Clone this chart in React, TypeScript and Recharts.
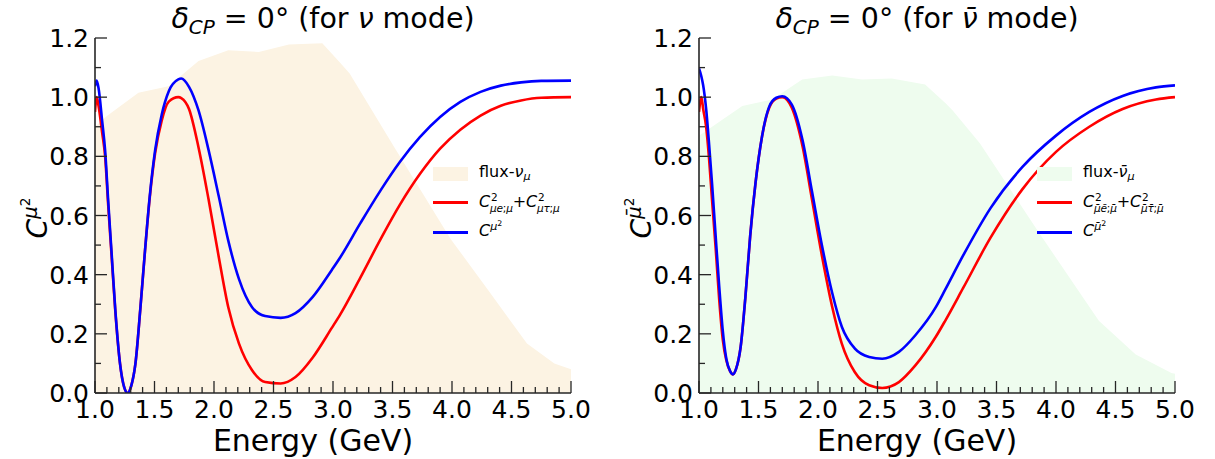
import React from "react";
import { ComposedChart, Line, Area, XAxis, YAxis } from "recharts";

// ── data ─────────────────────────────────────────────────────────────────────

// nu mode: energies (GeV) where the two curves were read
const nuE = [
  1.0, 1.014, 1.03, 1.06, 1.085, 1.11, 1.14, 1.17, 1.21, 1.245, 1.275, 1.305,
  1.34, 1.38, 1.42, 1.46, 1.505, 1.56, 1.62, 1.7, 1.725, 1.79, 1.87, 1.955,
  2.04, 2.12, 2.21, 2.32, 2.43, 2.56, 2.685, 2.83, 2.99, 3.06, 3.23, 3.4,
  3.56, 3.73, 3.9, 4.07, 4.24, 4.41, 4.58, 4.75, 5.0,
];
const nuRed = [
  0.95, 1.0, 0.97, 0.88, 0.8, 0.64, 0.46, 0.28, 0.1, 0.02, 0.0, 0.025,
  0.1, 0.28, 0.48, 0.66, 0.81, 0.92, 0.985, 1.0, 0.997, 0.96, 0.83, 0.653,
  0.46, 0.29, 0.167, 0.077, 0.037, 0.032, 0.054, 0.12, 0.22, 0.265, 0.39, 0.52,
  0.635, 0.74, 0.826, 0.89, 0.938, 0.971, 0.989, 0.998, 1.0,
];
const nuBlue = [
  1.037, 1.056, 1.03, 0.92, 0.82, 0.655, 0.47, 0.285, 0.1, 0.02, 0.0, 0.025,
  0.1, 0.28, 0.48, 0.665, 0.82, 0.94, 1.02, 1.06, 1.063, 1.035, 0.955, 0.82,
  0.665, 0.515, 0.385, 0.29, 0.26, 0.254, 0.27, 0.325, 0.416, 0.458, 0.574, 0.685,
  0.78, 0.865, 0.933, 0.984, 1.018, 1.039, 1.05, 1.055, 1.056,
];
const nuFluxE = [1.0, 1.1, 1.365, 1.618, 1.87, 2.12, 2.376, 2.63, 2.91, 3.06, 3.14, 3.51, 3.99, 4.3, 4.63, 4.86, 5.0];
const nuFlux = [0.9, 0.936, 1.015, 1.037, 1.122, 1.159, 1.153, 1.178, 1.182, 1.116, 1.08, 0.834, 0.52, 0.35, 0.167, 0.1, 0.08];

// anti-nu mode
const barE = [
  1.0, 1.02, 1.035, 1.06, 1.085, 1.11, 1.14, 1.17, 1.2, 1.23, 1.26, 1.285,
  1.31, 1.35, 1.39, 1.43, 1.475, 1.53, 1.59, 1.65, 1.7, 1.78, 1.87, 1.95,
  2.035, 2.12, 2.2, 2.31, 2.43, 2.54, 2.68, 2.82, 2.99, 3.07, 3.22, 3.45,
  3.72, 4.0, 4.28, 4.56, 4.84, 5.0,
];
const barRed = [
  0.95, 1.0, 0.96, 0.9, 0.79, 0.65, 0.49, 0.315, 0.18, 0.11, 0.075, 0.063,
  0.08, 0.156, 0.325, 0.53, 0.71, 0.868, 0.964, 0.995, 1.0, 0.964, 0.834, 0.653,
  0.46, 0.29, 0.167, 0.07, 0.026, 0.017, 0.037, 0.094, 0.19, 0.245, 0.355, 0.525,
  0.69, 0.815, 0.9, 0.96, 0.992, 1.0,
];
const barBlue = [
  1.097, 1.07, 1.04, 0.96, 0.84, 0.706, 0.53, 0.36, 0.21, 0.115, 0.075, 0.063,
  0.08, 0.156, 0.325, 0.53, 0.71, 0.868, 0.968, 0.998, 1.003, 0.975, 0.855, 0.68,
  0.495, 0.337, 0.224, 0.15, 0.122, 0.116, 0.139, 0.196, 0.29, 0.35, 0.465, 0.625,
  0.765, 0.87, 0.95, 1.004, 1.033, 1.04,
];
const barFluxE = [1.0, 1.364, 1.615, 1.867, 2.12, 2.37, 2.62, 2.9, 3.07, 3.13, 3.36, 3.86, 4.36, 4.67, 4.97, 5.0];
const barFlux = [0.87, 0.97, 0.992, 1.06, 1.073, 1.06, 1.063, 1.043, 0.98, 0.956, 0.844, 0.54, 0.244, 0.13, 0.068, 0.065];

const xTicks = [
  1.0, 1.1, 1.2, 1.3, 1.4, 1.5, 1.6, 1.7, 1.8, 1.9, 2.0, 2.1, 2.2, 2.3, 2.4, 2.5,
  2.6, 2.7, 2.8, 2.9, 3.0, 3.1, 3.2, 3.3, 3.4, 3.5, 3.6, 3.7, 3.8, 3.9, 4.0, 4.1,
  4.2, 4.3, 4.4, 4.5, 4.6, 4.7, 4.8, 4.9, 5.0,
];
const yTicks = [0, 0.1, 0.2, 0.3, 0.4, 0.5, 0.6, 0.7, 0.8, 0.9, 1.0, 1.1, 1.2];

// ── helpers ──────────────────────────────────────────────────────────────────

const FONT = "'DejaVu Sans', sans-serif";
const FRAME = "#262626";

function buildRows(e: number[], red: number[], blue: number[], fe: number[], flux: number[]) {
  const map = new Map<number, any>();
  e.forEach((x, i) => map.set(x, { E: x, red: red[i], blue: blue[i] }));
  fe.forEach((x, i) => {
    const r = map.get(x) ?? { E: x };
    r.flux = flux[i];
    map.set(x, r);
  });
  return [...map.values()].sort((a, b) => a.E - b.E);
}

const isMajor = (v: number, step: number) => Math.abs(v / step - Math.round(v / step)) < 1e-6;

function makeTick(side: "bottom" | "top" | "left" | "right") {
  return (props: any) => {
    const { x, y, payload } = props;
    const v = payload.value as number;
    const horiz = side === "bottom" || side === "top";
    const major = horiz ? isMajor(v, 0.5) : isMajor(v, 0.2);
    const len = major ? 12 : 6;
    let line;
    if (side === "bottom") line = <line x1={x} x2={x} y1={y} y2={y - len} />;
    else if (side === "top") line = <line x1={x} x2={x} y1={y} y2={y + len} />;
    else if (side === "left") line = <line x1={x} x2={x + len} y1={y} y2={y} />;
    else line = <line x1={x} x2={x - len} y1={y} y2={y} />;
    return (
      <g>
        <g stroke={FRAME} strokeWidth={1.3}>{line}</g>
        {major && side === "bottom" && (
          <text x={x} y={y + 25} textAnchor="middle" fontSize={25} fontFamily={FONT} fill="#000">
            {v.toFixed(1)}
          </text>
        )}
        {major && side === "left" && (
          <text x={x - 6} y={y + 9} textAnchor="end" fontSize={25} fontFamily={FONT} fill="#000">
            {v.toFixed(1)}
          </text>
        )}
      </g>
    );
  };
}

const axisLine = { stroke: FRAME, strokeWidth: 1.6 };

function Panel({ rows, fill }: { rows: any[]; fill: string }) {
  const common = { tickSize: 0, tickMargin: 0, tickLine: false, axisLine, interval: 0 as const, allowDataOverflow: true };
  return (
    <ComposedChart width={600} height={459} data={rows} margin={{ top: 38, right: 29, bottom: 26, left: 35 }}>
      <Area dataKey="flux" type="linear" fill={fill} fillOpacity={1} stroke="none" connectNulls isAnimationActive={false} />
      <Line dataKey="red" type="monotone" stroke="#ff0000" strokeWidth={2.6} dot={false} connectNulls isAnimationActive={false} />
      <Line dataKey="blue" type="monotone" stroke="#0000ff" strokeWidth={2.6} dot={false} connectNulls isAnimationActive={false} />
      <XAxis dataKey="E" type="number" domain={[1, 5]} ticks={xTicks} tick={makeTick("bottom")} height={40} {...common} />
      <XAxis xAxisId="top" orientation="top" dataKey="E" type="number" domain={[1, 5]} ticks={xTicks} tick={makeTick("top")} height={0} {...common} />
      <YAxis type="number" domain={[0, 1.2]} ticks={yTicks} tick={makeTick("left")} width={60} {...common} />
      <YAxis yAxisId="right" orientation="right" type="number" domain={[0, 1.2]} ticks={yTicks} tick={makeTick("right")} width={0} {...common} />
    </ComposedChart>
  );
}

// C^2_{..}: subscript in flow, the 2 set above it
function Stack({ top, bottom }: { top: React.ReactNode; bottom: React.ReactNode }) {
  return (
    <span style={{ position: "relative", display: "inline-block", fontSize: "0.66em", verticalAlign: "-0.45em", lineHeight: "1em" }}>
      {bottom}
      <span style={{ position: "absolute", left: 1, top: "-1em" }}>{top}</span>
    </span>
  );
}

const sup = { fontSize: "0.7em", verticalAlign: "0.5em", lineHeight: 0 } as const;
const sub = { fontSize: "0.7em", verticalAlign: "-0.3em", lineHeight: 0 } as const;

function Overlay({ ox, bar, fill }: { ox: number; bar: boolean; fill: string }) {
  const m = bar ? "μ\u0304" : "μ";
  const base: React.CSSProperties = { position: "absolute", fontFamily: FONT, color: "#000", whiteSpace: "nowrap" };
  return (
    <>
      <div style={{ ...base, left: ox + 85, width: 476, top: 4, textAlign: "center", fontSize: 28.5, lineHeight: "30px" }}>
        <i>δ</i>
        <span style={sub}><i>CP</i></span> = 0° (for <i>{bar ? "ν\u0304" : "ν"}</i> mode)
      </div>
      <div style={{ ...base, left: ox + 75, width: 476, top: 426, textAlign: "center", fontSize: 30, lineHeight: "30px" }}>
        Energy (GeV)
      </div>
      <div style={{ ...base, left: ox + 38 - 100, top: 218 - 20, width: 200, height: 40, lineHeight: "40px", textAlign: "center", fontSize: 28, transform: "rotate(-90deg)" }}>
        <i>C</i>
        <span style={sup}>
          <i>{m}</i>
          <span style={{ fontSize: "0.7em", verticalAlign: "0.5em" }}>2</span>
        </span>
      </div>
      {/* legend */}
      <div style={{ ...base, left: ox + 433, top: 167, width: 35, height: 14, background: fill }} />
      <div style={{ ...base, left: ox + 433, top: 201, width: 35, height: 2.6, background: "#ff0000" }} />
      <div style={{ ...base, left: ox + 433, top: 231, width: 35, height: 2.6, background: "#0000ff" }} />
      <div style={{ ...base, left: ox + 479, top: 162, fontSize: 16, lineHeight: "20px" }}>
        flux-<i>{bar ? "ν\u0304" : "ν"}</i>
        <span style={sub}><i>μ</i></span>
      </div>
      <div style={{ ...base, left: ox + 479, top: 192, fontSize: 16, lineHeight: "20px", letterSpacing: -0.2 }}>
        <i>C</i>
        <Stack top="2" bottom={<><i>{m}{bar ? "e\u0304" : "e"}</i>;<i>{m}</i></>} />+<i>C</i>
        <Stack top="2" bottom={<><i>{m}{bar ? "τ\u0304" : "τ"}</i>;<i>{m}</i></>} />
      </div>
      <div style={{ ...base, left: ox + 479, top: 221, fontSize: 16, lineHeight: "20px" }}>
        <i>C</i>
        <span style={sup}>
          <i>{m}</i>
          <span style={{ fontSize: "0.7em", verticalAlign: "0.5em" }}>2</span>
        </span>
      </div>
    </>
  );
}

export default function App() {
  const nuRows = buildRows(nuE, nuRed, nuBlue, nuFluxE, nuFlux);
  const barRows = buildRows(barE, barRed, barBlue, barFluxE, barFlux);
  return (
    <div style={{ position: "absolute", left: 0, top: 0, width: 1215, height: 459, background: "#fff" }}>
      <div style={{ position: "absolute", left: 0, top: 0 }}>
        <Panel rows={nuRows} fill="#fcf3e3" />
      </div>
      <div style={{ position: "absolute", left: 604, top: 0 }}>
        <Panel rows={barRows} fill="#eefcee" />
      </div>
      <Overlay ox={0} bar={false} fill="#fcf3e3" />
      <Overlay ox={604} bar={true} fill="#eefcee" />
    </div>
  );
}
